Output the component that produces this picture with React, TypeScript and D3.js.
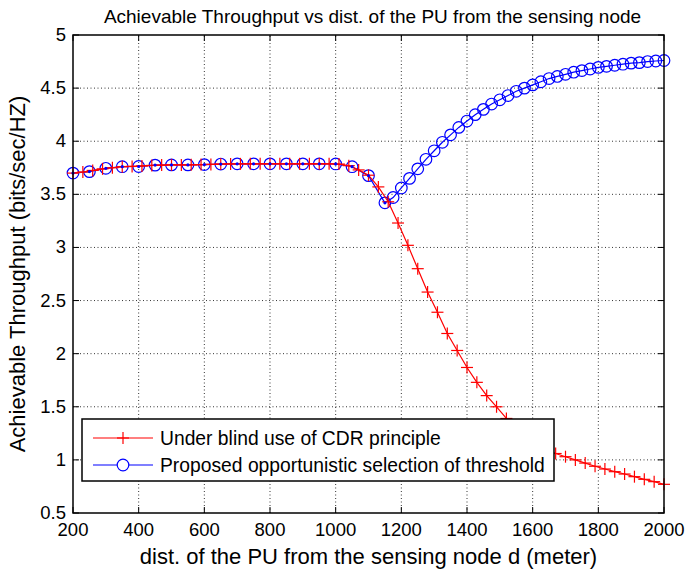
import React from "react";
import * as d3 from "d3";

const title = "Achievable Throughput vs dist. of the PU from the sensing node";
const xLabel = "dist. of the PU from the sensing node d (meter)";
const yLabel = "Achievable Throughput (bits/sec/HZ)";
const xTicks = [200, 400, 600, 800, 1000, 1200, 1400, 1600, 1800, 2000];
const yTicks = [0.5, 1, 1.5, 2, 2.5, 3, 3.5, 4, 4.5, 5];

const redName = "Under blind use of CDR principle";
const blueName = "Proposed opportunistic selection of threshold";

const redX = [200, 230, 260, 290, 320, 350, 380, 410, 440, 470, 500, 530, 560, 590, 620, 650, 680, 710, 740, 770, 800, 830, 860, 890, 920, 950, 980, 1010, 1040, 1070, 1100, 1130, 1160, 1190, 1220, 1250, 1280, 1310, 1340, 1370, 1400, 1430, 1460, 1490, 1520, 1550, 1580, 1610, 1640, 1670, 1700, 1730, 1760, 1790, 1820, 1850, 1880, 1910, 1940, 1970, 2000];
const redY = [3.70, 3.71, 3.725, 3.74, 3.75, 3.76, 3.763, 3.767, 3.772, 3.775, 3.777, 3.777, 3.778, 3.78, 3.782, 3.785, 3.786, 3.787, 3.787, 3.787, 3.787, 3.787, 3.787, 3.787, 3.787, 3.787, 3.787, 3.785, 3.77, 3.73, 3.68, 3.57, 3.43, 3.23, 3.02, 2.80, 2.58, 2.39, 2.19, 2.03, 1.87, 1.73, 1.605, 1.50, 1.39, 1.30, 1.22, 1.15, 1.10, 1.06, 1.03, 1.00, 0.97, 0.94, 0.914, 0.889, 0.867, 0.842, 0.817, 0.795, 0.77];

const blueX = [200, 250, 300, 350, 400, 450, 500, 550, 600, 650, 700, 750, 800, 850, 900, 950, 1000, 1050, 1100, 1150, 1175, 1200, 1225, 1250, 1275, 1300, 1325, 1350, 1375, 1400, 1425, 1450, 1475, 1500, 1525, 1550, 1575, 1600, 1625, 1650, 1675, 1700, 1725, 1750, 1775, 1800, 1825, 1850, 1875, 1900, 1925, 1950, 1975, 2000];
const blueY = [3.70, 3.714, 3.745, 3.76, 3.762, 3.775, 3.777, 3.777, 3.78, 3.785, 3.787, 3.787, 3.787, 3.787, 3.787, 3.787, 3.786, 3.76, 3.676, 3.42, 3.47, 3.56, 3.65, 3.74, 3.83, 3.91, 3.99, 4.06, 4.13, 4.19, 4.25, 4.30, 4.35, 4.39, 4.43, 4.47, 4.50, 4.53, 4.56, 4.59, 4.61, 4.63, 4.65, 4.665, 4.68, 4.695, 4.705, 4.715, 4.725, 4.735, 4.74, 4.75, 4.755, 4.76];
const blueDotMaxX = 1150;

const W = 685;
const H = 575;
const M = { left: 73, right: 21, top: 35, bottom: 62 };
const FONT = "'Liberation Sans', Arial, Helvetica, sans-serif";

export default function App() {
  const x = d3.scaleLinear().domain([200, 2000]).range([M.left, W - M.right]);
  const y = d3.scaleLinear().domain([0.5, 5]).range([H - M.bottom, M.top]);
  const x0 = M.left, x1 = W - M.right, y0 = H - M.bottom, y1 = M.top;

  const redPts = redX.map((v, i) => [v, redY[i]] as [number, number]);
  const bluePts = blueX.map((v, i) => [v, blueY[i]] as [number, number]);
  const line = d3.line<[number, number]>().x((d) => x(d[0])).y((d) => y(d[1]));

  const red = "#ff0000";
  const blue = "#0000ff";
  const r = 5.8;
  const p = 6;

  const legX = 82, legY = 419, legW = 472, legH = 62;

  return (
    <svg width={W} height={H} style={{ position: "absolute", left: 0, top: 0, background: "#fff" }}>
      <rect x={0} y={0} width={W} height={H} fill="#fff" />
      {xTicks.slice(1, -1).map((t) => (
        <line key={"gx" + t} x1={x(t)} x2={x(t)} y1={y0} y2={y1} stroke="#000" strokeWidth={0.8} strokeDasharray="1,2.5" />
      ))}
      {yTicks.slice(1, -1).map((t) => (
        <line key={"gy" + t} x1={x0} x2={x1} y1={y(t)} y2={y(t)} stroke="#000" strokeWidth={0.8} strokeDasharray="1,2.5" />
      ))}
      {xTicks.map((t) => (
        <g key={"tx" + t}>
          <line x1={x(t)} x2={x(t)} y1={y0} y2={y0 - 6} stroke="#000" />
          <line x1={x(t)} x2={x(t)} y1={y1} y2={y1 + 6} stroke="#000" />
          <text x={x(t)} y={y0 + 23} textAnchor="middle" fontFamily={FONT} fontSize={18.5} fill="#000">{t}</text>
        </g>
      ))}
      {yTicks.map((t) => (
        <g key={"ty" + t}>
          <line x1={x0} x2={x0 + 6} y1={y(t)} y2={y(t)} stroke="#000" />
          <line x1={x1} x2={x1 - 6} y1={y(t)} y2={y(t)} stroke="#000" />
          <text x={x0 - 7} y={y(t) + 6} textAnchor="end" fontFamily={FONT} fontSize={18.5} fill="#000">{t}</text>
        </g>
      ))}
      <path d={line(bluePts) || ""} fill="none" stroke={blue} strokeWidth={1.2} />
      {bluePts.map((d, i) => (
        <circle key={"bc" + i} cx={x(d[0])} cy={y(d[1])} r={r} fill="none" stroke={blue} strokeWidth={1.2} />
      ))}
      <path d={line(redPts) || ""} fill="none" stroke={red} strokeWidth={1.2} />
      {redPts.map((d, i) => (
        <g key={"rp" + i} stroke={red} strokeWidth={1.2}>
          <line x1={x(d[0]) - p} x2={x(d[0]) + p} y1={y(d[1])} y2={y(d[1])} />
          <line x1={x(d[0])} x2={x(d[0])} y1={y(d[1]) - p} y2={y(d[1]) + p} />
        </g>
      ))}
      {bluePts.filter((d) => d[0] <= blueDotMaxX).map((d, i) => (
        <circle key={"bd" + i} cx={x(d[0])} cy={y(d[1])} r={1.6} fill={blue} />
      ))}
      <rect x={x0} y={y1} width={x1 - x0} height={y0 - y1} fill="none" stroke="#000" strokeWidth={1.5} />
      <rect x={legX} y={legY} width={legW} height={legH} fill="#fff" stroke="#000" strokeWidth={1.5} />
      <g>
        <line x1={93} x2={153} y1={438} y2={438} stroke={red} strokeWidth={1.2} />
        <line x1={123 - p} x2={123 + p} y1={438} y2={438} stroke={red} strokeWidth={1.2} />
        <line x1={123} x2={123} y1={438 - p} y2={438 + p} stroke={red} strokeWidth={1.2} />
        <text x={160} y={444.5} fontFamily={FONT} fontSize={19.3} fill="#000">{redName}</text>
        <line x1={93} x2={153} y1={465} y2={465} stroke={blue} strokeWidth={1.2} />
        <circle cx={123} cy={465} r={r} fill="#fff" stroke={blue} strokeWidth={1.2} />
        <text x={160} y={471.5} fontFamily={FONT} fontSize={19.3} fill="#000">{blueName}</text>
      </g>
      <text x={(x0 + x1) / 2 + 4} y={23} textAnchor="middle" fontFamily={FONT} fontSize={19} fill="#000">{title}</text>
      <text x={(x0 + x1) / 2} y={564} textAnchor="middle" fontFamily={FONT} fontSize={22} fill="#000">{xLabel}</text>
      <text transform={`translate(25, ${(y0 + y1) / 2}) rotate(-90)`} textAnchor="middle" fontFamily={FONT} fontSize={22} fill="#000">{yLabel}</text>
    </svg>
  );
}
